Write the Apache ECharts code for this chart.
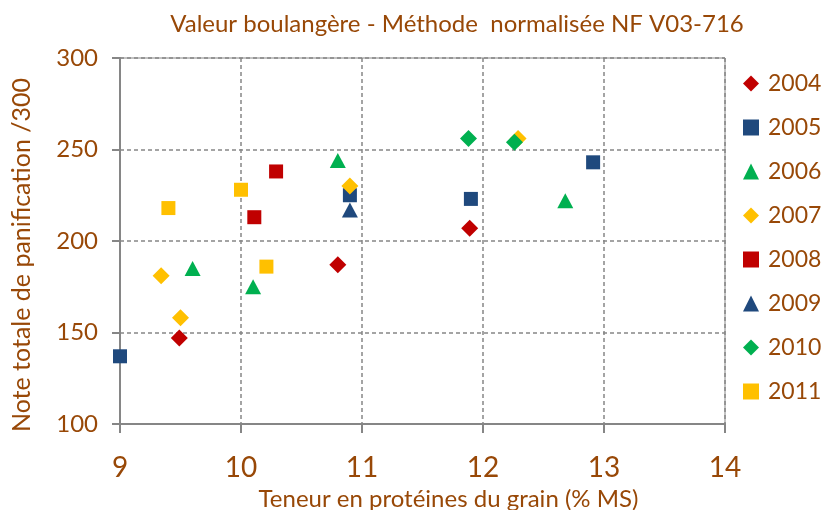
<!DOCTYPE html>
<html>
<head>
<meta charset="utf-8">
<script src="https://cdn.jsdelivr.net/npm/echarts@6/dist/echarts.min.js"></script>
<style>
  html, body { margin: 0; padding: 0; background: #fff; }
  #chart { width: 822px; height: 510px; }
</style>
</head>
<body>
<div id="chart"></div>
<script>
// données : [protéines %MS, note /300]
var years = ['2004', '2005', '2006', '2007', '2008', '2009', '2010', '2011'];
var d2004 = [[9.49, 147], [10.8, 187], [11.89, 207]];
var d2005 = [[9.0, 137], [10.9, 225], [11.9, 223], [12.91, 243]];
var d2006 = [[9.6, 185], [10.1, 175], [10.8, 244], [12.68, 222]];
var d2007 = [[9.34, 181], [9.5, 158], [10.9, 230], [12.29, 256]];
var d2008 = [[10.11, 213], [10.29, 238]];
var d2009 = [[10.9, 217]];
var d2010 = [[11.88, 256], [12.26, 254]];
var d2011 = [[9.4, 218], [10.0, 228], [10.21, 186]];
var xTicks = [9, 10, 11, 12, 13, 14];
var yTicks = [100, 150, 200, 250, 300];

var brown = '#984807';
var grey = '#868686';
var font = 'Lato';

var seriesData = [d2004, d2005, d2006, d2007, d2008, d2009, d2010, d2011];
var colors = ['#C00000', '#1F497D', '#00B050', '#FFC000', '#C00000', '#1F497D', '#00B050', '#FFC000'];
var symbols = ['diamond', 'rect', 'triangle', 'diamond', 'rect', 'triangle', 'diamond', 'rect'];
var sizes = [17, 14, [16, 15], 17, 14, [16, 15], 17, 14];

var myChart = echarts.init(document.getElementById('chart'));
myChart.setOption({
  animation: false,
  textStyle: { fontFamily: font },
  title: {
    text: 'Valeur boulangère - Méthode  normalisée NF V03-716',
    left: 452,
    textAlign: 'center',
    top: 7,
    textStyle: { color: brown, fontSize: 24, fontWeight: 'normal', fontFamily: font }
  },
  legend: {
    orient: 'vertical',
    left: 738,
    top: 67,
    itemGap: 21,
    itemWidth: 16,
    itemHeight: 16,
    data: years,
    textStyle: { color: brown, fontSize: 23, fontFamily: font, padding: [0, 0, 0, 4] }
  },
  grid: {
    left: 120, right: 97, top: 58, bottom: 86,
    outerBoundsMode: 'none',
    show: true, borderColor: grey, borderWidth: 1
  },
  xAxis: {
    type: 'value',
    min: 9, max: 14, interval: 1,
    name: 'Teneur en protéines du grain (% MS)',
    nameLocation: 'middle',
    nameGap: 63,
    nameTextStyle: { color: brown, fontSize: 24, fontFamily: font, padding: [0, 0, 0, 52] },
    axisLine: { lineStyle: { color: grey, width: 2 } },
    axisTick: { show: true, length: 9, lineStyle: { color: grey, width: 2 } },
    axisLabel: { color: brown, fontSize: 28, margin: 30, fontFamily: font },
    splitLine: { lineStyle: { color: grey, type: [4, 3], width: 1.5 } }
  },
  yAxis: {
    type: 'value',
    min: 100, max: 300, interval: 50,
    name: 'Note totale de panification /300',
    nameLocation: 'middle',
    nameGap: 86,
    nameTextStyle: { color: brown, fontSize: 25, fontFamily: font, padding: [0, 28, 0, 0] },
    axisLine: { show: true, lineStyle: { color: grey, width: 2 } },
    axisTick: { show: true, length: 8, lineStyle: { color: grey, width: 2 } },
    axisLabel: { color: brown, fontSize: 24, margin: 22, fontFamily: font },
    splitLine: { lineStyle: { color: grey, type: [4, 3], width: 1.5 } }
  },
  series: years.map(function (y, i) {
    return {
      name: y,
      type: 'scatter',
      symbol: symbols[i],
      symbolSize: sizes[i],
      itemStyle: { color: colors[i], opacity: 1 },
      data: seriesData[i]
    };
  })
});
</script>
</body>
</html>
